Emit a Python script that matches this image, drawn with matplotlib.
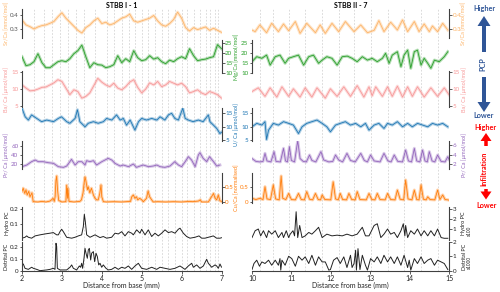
import numpy as np
import matplotlib
matplotlib.use("Agg")
import matplotlib.pyplot as plt
from matplotlib.ticker import FuncFormatter
from matplotlib.patches import FancyArrow

plt.rcParams['font.family'] = ['Lato', 'DejaVu Sans']

# ---------------- data : left panel (STBB I - 1) ----------------
grid_l = np.round(np.arange(2.0, 7.001, 0.1), 2)
sr_l = [0.367,0.33,0.317,0.30,0.315,0.325,0.33,0.342,0.355,0.39,0.42,0.38,0.35,0.32,0.29,0.27,0.31,0.33,0.36,0.38,
        0.34,0.35,0.33,0.34,0.36,0.38,0.39,0.41,0.36,0.35,0.36,0.37,0.38,0.40,0.36,0.33,0.32,0.34,0.37,0.425,
        0.38,0.31,0.285,0.31,0.295,0.305,0.315,0.29,0.305,0.29,0.275]
mg_l = [18,13.5,14,15.5,19.5,15,12.5,12.5,14,15.5,16,15.5,17,19.5,21,23.8,18,12.5,15,14,
        13.8,12.5,13,14,18.5,15,17,15.5,21,17.5,16,16.5,18.5,16.8,17.5,15.5,14.5,16.3,15.5,17,
        18,17,22,18.5,16,16.5,16.8,17.5,18,24,22]
ba_l = [11.2,10.3,9.5,9.6,10.0,10.5,10.6,11.2,11.8,12.7,12.2,10.3,8.4,9.8,9.3,7.4,7.9,8.9,11.0,13.1,
        12.0,11.2,10.7,11.7,10.3,9.8,10.7,12.0,12.7,10.5,8.9,10.0,11.8,11.2,12.2,10.7,11.2,12.2,11.7,11.2,
        11.7,10.7,8.9,9.3,9.8,8.9,8.4,9.3,8.9,8.4,7.4]
u_l_x = [2.0,2.08,2.16,2.24,2.37,2.49,2.62,2.79,2.91,2.99,3.12,3.2,3.33,3.39,3.45,3.58,3.66,3.79,3.91,4.04,
         4.12,4.25,4.37,4.46,4.54,4.62,4.71,4.83,4.92,5.0,5.12,5.25,5.38,5.46,5.58,5.67,5.75,5.83,5.92,6.03,
         6.09,6.17,6.29,6.42,6.54,6.67,6.71,6.8,6.88,6.96,7.0]
u_l = [16.9,13.7,12.5,14.4,13.1,11.9,12.5,11.9,13.1,13.7,11.9,11.3,13.1,16.3,11.9,10.0,11.3,11.9,11.3,11.9,
       13.1,12.5,14.4,12.5,13.1,10.6,12.5,8.8,11.9,13.1,12.5,13.1,12.5,13.7,12.5,14.4,15.0,13.1,12.5,16.9,
       13.1,12.5,11.9,12.5,11.9,14.4,11.9,10.6,9.4,7.5,8.0]
pr_l_x = [2.0,2.12,2.24,2.33,2.41,2.53,2.66,2.79,2.91,3.04,3.12,3.2,3.24,3.33,3.41,3.5,3.58,3.62,3.7,3.79,
          3.87,4.0,4.08,4.16,4.25,4.33,4.46,4.54,4.67,4.79,4.87,4.96,5.04,5.17,5.29,5.38,5.46,5.58,5.71,5.83,
          5.92,6.0,6.09,6.17,6.25,6.34,6.42,6.46,6.54,6.63,6.7,6.8,6.88,6.96]
pr_l = [14.2,17.8,25.1,28.7,25.1,25.1,22.9,21.5,14.2,12.7,15.6,25.1,30.2,17.8,25.1,25.1,17.8,27.3,25.1,27.3,
        17.8,25.1,28.7,32.4,28.7,21.5,15.6,17.8,14.2,20.0,12.7,15.6,17.8,14.2,15.6,17.8,14.2,12.7,15.6,25.1,
        17.8,14.2,25.1,36.0,28.7,14.2,39.7,44.8,32.4,25.1,36.0,25.1,15.6,17.8]
cu_l_x = [2.0,2.03,2.07,2.1,2.13,2.17,2.2,2.25,2.28,2.4,2.5,2.6,2.7,2.74,2.78,2.81,2.83,2.85,2.87,2.89,
          2.92,3.0,3.1,3.11,3.12,3.14,3.15,3.18,3.3,3.45,3.49,3.53,3.56,3.58,3.6,3.64,3.66,3.7,3.74,3.79,
          3.83,3.87,3.91,3.95,3.98,4.0,4.04,4.12,4.3,4.5,4.72,4.75,4.79,4.83,4.87,4.9,4.95,5.0,5.04,5.12,
          5.16,5.2,5.25,5.29,5.4,5.6,5.8,6.0,6.2,6.27,6.42,6.47,6.5,6.67,6.75,6.8,6.84,6.88,6.92,6.96,7.0]
cu_l = [0.35,0.45,0.28,0.40,0.23,0.35,0.17,0.30,0.01,0.0,0.02,0.0,0.03,0.07,0.12,0.02,0.17,0.70,0.85,0.40,
        0.05,0.0,0.01,0.28,0.55,0.12,0.45,0.02,0.0,0.02,0.07,0.30,0.65,0.82,0.70,0.40,0.50,0.30,0.45,0.23,
        0.12,0.07,0.07,0.28,0.56,0.17,0.01,0.0,0.01,0.0,0.02,0.17,0.23,0.12,0.17,0.07,0.12,0.07,0.01,0.12,
        0.36,0.17,0.07,0.0,0.01,0.0,0.01,0.0,0.02,0.01,0.03,0.07,0.0,0.0,0.17,0.28,0.12,0.07,0.23,0.04,0.02]
hy_l_x = [2.0,2.075,2.117,2.159,2.242,2.326,2.451,2.576,2.702,2.785,2.869,2.911,2.952,2.994,3.036,3.119,3.245,
          3.328,3.412,3.495,3.537,3.562,3.587,3.621,3.704,3.83,3.955,4.038,4.122,4.247,4.331,4.414,4.498,4.581,
          4.665,4.749,4.79,4.874,4.957,4.999,5.083,5.166,5.25,5.333,5.417,5.5,5.584,5.667,5.751,5.835,5.918,
          5.96,6.043,6.127,6.211,6.336,6.436,6.503,6.586,6.67,6.795,6.878,6.962,7.0]
hy_l = [0.007,0.013,0.022,0.013,0.007,0.022,0.029,0.035,0.04,0.044,0.029,0.029,0.05,0.066,0.05,0.013,0.007,
        0.013,0.022,0.029,0.084,0.165,0.116,0.029,0.013,0.029,0.011,0.018,0.007,0.013,0.04,0.035,0.05,0.022,
        0.05,0.04,0.029,0.062,0.04,0.066,0.029,0.062,0.018,0.04,0.022,0.04,0.062,0.044,0.05,0.04,0.066,
        0.073,0.04,0.018,0.007,0.013,0.022,0.007,0.007,0.013,0.022,0.007,0.007,0.01]
de_l_x = [2.0,2.033,2.075,2.159,2.242,2.284,2.368,2.451,2.618,2.702,2.785,2.827,2.852,2.869,2.886,2.952,3.119,
          3.203,3.245,3.287,3.37,3.437,3.47,3.495,3.52,3.554,3.579,3.604,3.637,3.662,3.688,3.721,3.746,3.788,
          3.821,3.855,3.888,3.922,3.955,3.997,4.038,4.105,4.164,4.247,4.331,4.414,4.498,4.581,4.665,4.749,
          4.832,4.916,4.999,5.124,5.25,5.375,5.459,5.584,5.709,5.835,5.96,6.085,6.169,6.253,6.294,6.378,
          6.461,6.545,6.628,6.67,6.754,6.837,6.879,6.92,6.962,7.0]
de_l = [0.049,0.057,0.02,0.011,0.029,0.02,0.011,0.0,0.006,0.011,0.02,0.011,0.234,0.206,0.02,0.006,0.006,
        0.029,0.049,0.02,0.006,0.04,0.029,0.063,0.02,0.106,0.191,0.149,0.106,0.177,0.191,0.091,0.149,0.163,
        0.077,0.149,0.12,0.049,0.063,0.029,0.049,0.02,0.006,0.011,0.029,0.011,0.029,0.02,0.04,0.011,
        0.04,0.063,0.02,0.011,0.029,0.011,0.029,0.02,0.011,0.02,0.04,0.011,0.04,0.063,0.029,0.049,
        0.02,0.04,0.097,0.063,0.029,0.049,0.04,0.02,0.057,0.03]
layers_l = [2.3,2.55,2.75,2.95,3.15,3.35,3.55,3.83,4.12,4.3,4.5,4.67,4.83,5.0,5.16,5.33,5.5,5.67,5.83,
            6.0,6.13,6.3,6.46,6.6,6.72,6.83,6.92]

# ---------------- data : right panel (STBB II - 7) ----------------
sr_r_x = [10.0,10.08,10.2,10.37,10.5,10.67,10.8,10.93,11.1,11.22,11.39,11.61,11.73,11.86,12.03,12.2,12.37,
          12.59,12.76,12.93,13.1,13.22,13.35,13.52,13.69,13.82,13.95,14.12,14.24,14.37,14.5,14.58,14.71,14.84,14.97]
sr_r = [0.292,0.28,0.33,0.272,0.342,0.28,0.337,0.287,0.355,0.267,0.342,0.272,0.33,0.267,0.342,0.28,0.355,
        0.28,0.33,0.272,0.29,0.362,0.28,0.35,0.292,0.367,0.28,0.355,0.28,0.337,0.28,0.322,0.28,0.342,0.292]
mg_r_x = [10.0,10.12,10.25,10.37,10.46,10.59,10.71,10.84,10.93,11.05,11.18,11.31,11.44,11.56,11.69,11.78,
          11.9,12.03,12.16,12.29,12.42,12.54,12.67,12.8,12.93,13.05,13.18,13.31,13.39,13.48,13.56,13.69,
          13.78,13.86,13.95,14.03,14.12,14.2,14.29,14.37,14.46,14.54,14.63,14.75,14.88,14.97]
mg_r = [15.5,18,17.2,18.8,13.8,18,18.8,14.7,17.2,18,18.8,13.8,18,18.8,14.7,16.3,
        18,17.2,13.8,18,18.3,17.2,15.5,18,16.3,17.2,15.5,17.2,19.7,14.7,18.8,20.5,
        13,18.8,21.3,12.2,20.5,21.3,13.8,17.2,14.7,12.2,16.3,15.5,18,20.5]
ba_r_x = [10.0,10.16,10.33,10.46,10.63,10.76,10.93,11.05,11.22,11.35,11.52,11.65,11.86,11.99,12.16,12.33,
          12.5,12.67,12.84,12.97,13.05,13.14,13.31,13.44,13.56,13.69,13.82,13.95,14.07,14.2,14.37,14.54,
          14.71,14.88,15.0]
ba_r = [9.3,10.37,7.9,10.37,7.7,10.66,7.9,10.09,7.7,10.37,7.7,10.37,7.4,10.09,7.9,10.66,
        7.9,11.0,7.7,10.66,8.09,10.66,7.9,10.66,7.9,10.85,7.7,10.66,7.9,10.66,7.7,10.37,
        7.9,10.37,8.4]
u_r_x = [10.0,10.12,10.25,10.33,10.37,10.42,10.54,10.67,10.8,10.93,11.05,11.18,11.27,11.39,11.52,11.65,
         11.78,11.9,11.99,12.12,12.24,12.37,12.5,12.63,12.76,12.88,12.97,13.1,13.22,13.35,13.44,13.56,
         13.69,13.82,13.95,14.07,14.2,14.33,14.46,14.58,14.71,14.84,14.97]
u_r = [10.0,11.27,10.64,11.9,5.3,8.76,11.27,10.64,11.9,11.27,10.64,7.5,10.0,11.27,11.9,12.5,
       11.27,10.0,8.14,10.64,11.27,11.9,10.64,11.27,10.0,11.27,8.76,10.64,11.27,9.4,11.27,10.64,
       11.9,10.0,11.27,10.0,11.27,10.64,10.0,11.27,10.64,11.27,10.0]
pr_r_x = [10.0,10.1,10.2,10.28,10.33,10.38,10.48,10.56,10.61,10.72,10.8,10.85,10.9,10.95,11.0,11.08,11.16,
          11.22,11.3,11.38,11.46,11.52,11.62,11.75,11.82,11.95,12.05,12.12,12.2,12.3,12.41,12.5,12.62,12.76,
          12.85,12.93,13.01,13.1,13.25,13.35,13.45,13.53,13.61,13.7,13.82,13.9,13.97,14.05,14.12,14.18,14.26,
          14.33,14.39,14.45,14.5,14.57,14.64,14.71,14.8,14.9,14.97,15.0]
pr_r = [3.2,2.6,2.5,2.6,4.27,2.7,2.5,4.62,2.6,2.5,5.31,2.7,2.5,5.65,2.8,2.5,6.9,
        3.2,2.6,2.5,3.93,2.8,2.5,4.62,2.9,2.5,2.6,3.93,2.9,2.5,4.27,2.8,2.5,4.27,
        2.8,2.5,3.93,2.7,2.5,4.27,2.7,2.5,3.93,2.6,2.5,4.96,2.7,2.5,5.31,2.7,2.5,
        4.96,2.7,2.5,4.62,2.7,2.5,3.93,2.6,2.5,3.58,3.0]
cu_r_x = [10.0,10.1,10.2,10.28,10.33,10.38,10.47,10.54,10.6,10.69,10.74,10.78,10.86,10.93,11.0,11.1,11.18,
          11.25,11.33,11.39,11.46,11.54,11.61,11.68,11.74,11.78,11.85,12.0,12.06,12.12,12.19,12.24,12.3,12.4,
          12.46,12.53,12.62,12.67,12.74,12.9,12.97,13.04,13.12,13.18,13.25,13.38,13.44,13.52,13.63,13.69,
          13.76,13.85,13.9,13.96,14.06,14.12,14.18,14.24,14.29,14.35,14.42,14.46,14.52,14.64,14.71,14.77,
          14.84,14.9,14.97,15.0]
cu_r = [0.12,0.08,0.12,0.08,0.5,0.1,0.08,0.56,0.1,0.07,0.85,0.12,0.08,0.28,0.08,0.07,0.28,
        0.08,0.07,0.34,0.09,0.07,0.28,0.08,0.07,0.23,0.08,0.07,0.66,0.1,0.07,0.28,0.08,0.07,
        0.28,0.08,0.07,0.34,0.08,0.07,0.28,0.08,0.07,0.28,0.08,0.07,0.28,0.08,0.07,0.39,
        0.09,0.07,0.72,0.1,0.07,0.39,0.08,0.07,0.56,0.09,0.07,0.17,0.08,0.07,0.39,0.08,
        0.23,0.08,0.07,0.06]
hy_r_x = [10.0,10.08,10.16,10.22,10.29,10.37,10.42,10.5,10.59,10.67,10.76,10.8,10.87,10.93,10.97,11.04,
          11.08,11.12,11.16,11.21,11.27,11.35,11.44,11.52,11.61,11.69,11.78,11.9,12.03,12.16,12.29,12.41,
          12.54,12.67,12.8,12.88,12.97,13.1,13.18,13.27,13.35,13.44,13.52,13.61,13.69,13.78,13.84,13.88,
          13.9,13.95,14.03,14.12,14.2,14.29,14.37,14.46,14.54,14.63,14.71,14.8,14.88,14.97]
hy_r = [0.17,0.85,1.02,0.34,0.85,0.17,0.85,0.51,0.85,0.17,0.68,0.17,0.85,0.17,0.51,0.85,
        0.34,2.73,0.17,1.37,0.17,0.34,0.68,0.51,0.85,1.19,0.17,0.51,0.34,0.41,0.34,0.51,
        0.34,0.51,1.19,0.34,0.34,1.37,1.54,0.17,0.51,1.02,0.51,0.68,0.17,0.85,1.54,0.34,
        1.37,0.17,0.85,0.51,1.02,0.34,0.85,0.34,0.85,0.34,1.02,0.17,0.1,0.1]
de_r_x = [10.0,10.05,10.12,10.19,10.25,10.33,10.42,10.5,10.59,10.67,10.71,10.73,10.76,10.84,10.93,11.01,
          11.1,11.18,11.27,11.35,11.44,11.52,11.61,11.69,11.78,11.86,11.95,11.99,12.07,12.16,12.24,12.33,
          12.41,12.5,12.54,12.59,12.63,12.65,12.69,12.74,12.8,12.88,12.93,13.01,13.1,13.18,13.27,13.35,
          13.44,13.52,13.61,13.69,13.78,13.86,13.95,13.99,14.03,14.12,14.2,14.29,14.37,14.46,14.54,14.63,
          14.71,14.8,14.88,14.97]
de_r = [0.09,0.51,0.74,0.32,0.62,0.51,0.74,0.39,0.74,0.39,0.85,0.05,0.74,0.39,1.01,0.85,
        0.32,1.01,0.74,0.97,0.51,1.08,0.39,0.97,0.62,0.62,0.05,0.09,0.74,0.92,0.51,0.97,
        0.23,1.08,0.23,0.51,1.43,0.05,1.54,0.09,1.08,0.39,0.05,0.85,0.62,0.97,0.51,1.08,
        0.62,0.97,0.51,0.97,0.39,1.08,0.23,0.74,0.05,0.85,0.51,0.97,0.51,0.74,0.85,0.39,
        0.74,0.62,0.51,0.09]
layers_r = [10.2,10.54,10.93,11.35,11.78,12.2,12.59,13.01,13.44,13.86,14.29,14.71]

# ---------------- styling ----------------
W, H = 500, 292
fig = plt.figure(figsize=(W/100, H/100), dpi=100)

C_SR = '#fdb56a'
C_MG = '#2ca02c'
C_BA = '#f79a9a'
C_U = '#1f77b4'
C_PR = '#9467bd'
C_CU = '#ff7f0e'
C_K = '#222222'
SPINE = '#404040'
fmt = FuncFormatter(lambda v, p: f'{v:g}')


def add_ax(px0, px1, top, bot):
    return fig.add_axes([px0 / W, 1 - bot / H, (px1 - px0) / W, (bot - top) / H])


def style(ax, side, xlim, ylim, ticks, tickcolor, label=None, lcolor=None, lx=None):
    ax.set_facecolor('none')
    for s in ax.spines.values():
        s.set_visible(False)
    ax.spines[side].set_visible(True)
    ax.spines[side].set_color(SPINE)
    ax.spines[side].set_linewidth(0.8)
    ax.set_xlim(*xlim)
    ax.set_xticks([])
    ax.set_ylim(*ylim)
    ax.set_yticks(ticks)
    ax.yaxis.set_major_formatter(fmt)
    ax.yaxis.set_ticks_position(side)
    ax.yaxis.set_label_position(side)
    ax.tick_params(axis='y', direction='out', length=1.8, width=0.6, pad=0.8,
                   labelsize=4.5, colors=SPINE, labelcolor=tickcolor)
    if label:
        ax.set_ylabel(label, color=lcolor, fontsize=4.0, labelpad=0)
        ax.yaxis.set_label_coords(lx, 0.5)


def trace(ax, x, y, color, band=True):
    if band:
        ax.plot(x, y, color=color, lw=2.2, alpha=0.35, solid_joinstyle='round')
        ax.plot(x, y, color=color, lw=0.6)
    else:
        ax.plot(x, y, color=color, lw=0.7)


panels = [
    dict(px=(22, 221.5), xlim=(2, 7), title='STBB I - 1', layers=layers_l, xt=[2, 3, 4, 5, 6, 7]),
    dict(px=(252, 449), xlim=(10, 15), title='STBB II - 7', layers=layers_r, xt=[10, 11, 12, 13, 14, 15]),
]

# rows: (top, bottom) in px
rows = {
    'sr': (9, 38), 'mg': (40, 73), 'ba': (71.5, 106.7), 'u': (107.7, 140.5),
    'pr': (140.7, 169), 'cu': (173, 203), 'hy': (207, 240), 'de': (242, 271),
}

for pi, P in enumerate(panels):
    x0, x1 = P['px']
    wpx = x1 - x0
    # background layer boundaries
    bg = add_ax(x0, x1, 8, 271)
    bg.set_xlim(*P['xlim'])
    bg.set_ylim(0, 1)
    bg.axis('off')
    bg.vlines(P['layers'], 0, 1, colors='#d4d4d4', linestyles=(0, (2, 2)), lw=0.6)

    lx_left = (9.5 - x0) / wpx
    lx_right_l = (233.6 - x0) / wpx
    lx_right_r = (461.5 - x0) / wpx

    if pi == 0:
        A = add_ax(x0, x1, *rows['sr']); trace(A, grid_l, sr_l, C_SR)
        style(A, 'left', P['xlim'], (0.233, 0.448), [0.3, 0.4], '#555555', 'Sr/Ca [mmol/mol]', C_SR, lx_left)
        A.set_title(P['title'], fontsize=5, fontweight='bold', pad=1)
        A = add_ax(x0, x1, *rows['mg']); trace(A, grid_l, mg_l, C_MG)
        style(A, 'right', P['xlim'], (9.85, 26.35), [10, 15, 20, 25], C_MG, 'Mg/Ca [mmol/mol]', C_MG, lx_right_l)
        A = add_ax(x0, x1, *rows['ba']); trace(A, grid_l, ba_l, C_BA)
        style(A, 'left', P['xlim'], (4.94, 15.06), [5, 10, 15], C_BA, 'Ba/ Ca [µmol/mol]', C_BA, lx_left)
        A = add_ax(x0, x1, *rows['u']); trace(A, u_l_x, u_l, C_U)
        style(A, 'right', P['xlim'], (4.93, 17.07), [5, 10, 15], C_U, 'U/ Ca [µmol/mol]', C_U, lx_right_l)
        A = add_ax(x0, x1, *rows['pr']); trace(A, pr_l_x, pr_l, C_PR)
        style(A, 'left', P['xlim'], (9.1, 70.9), [20, 40, 60], C_PR, 'Pr/ Ca [µmol/mol]', C_PR, lx_left)
        A = add_ax(x0, x1, *rows['cu']); trace(A, cu_l_x, cu_l, C_CU)
        style(A, 'right', P['xlim'], (-0.033, 0.948), [0, 0.5], C_CU, 'Cu/Ca [normalised]', C_CU, lx_right_l)
        A = add_ax(x0, x1, *rows['hy']); trace(A, hy_l_x, hy_l, C_K, band=False)
        style(A, 'left', P['xlim'], (-0.005, 0.213), [0.1, 0.2], C_K, 'Hydro PC', C_K, lx_left)
        A = add_ax(x0, x1, *rows['de']); trace(A, de_l_x, de_l, C_K, band=False)
        style(A, 'left', P['xlim'], (-0.003, 0.245), [0, 0.1, 0.2], C_K, 'Detrital PC', C_K, lx_left)
    else:
        A = add_ax(x0, x1, *rows['sr']); trace(A, sr_r_x, sr_r, C_SR)
        style(A, 'right', P['xlim'], (0.233, 0.448), [0.3, 0.4], C_SR, 'Sr/Ca [mmol/mol]', C_SR, lx_right_r)
        A.set_title(P['title'], fontsize=5, fontweight='bold', pad=1)
        A = add_ax(x0, x1, *rows['mg']); trace(A, mg_r_x, mg_r, C_MG)
        style(A, 'left', P['xlim'], (9.85, 26.35), [10, 15, 20, 25], C_MG)
        A = add_ax(x0, x1, *rows['ba']); trace(A, ba_r_x, ba_r, C_BA)
        style(A, 'right', P['xlim'], (4.94, 15.06), [5, 10, 15], C_BA, 'Ba/ Ca [µmol/mol]', C_BA, lx_right_r)
        A = add_ax(x0, x1, *rows['u']); trace(A, u_r_x, u_r, C_U)
        style(A, 'left', P['xlim'], (4.93, 17.07), [5, 10, 15], C_U)
        A = add_ax(x0, x1, *rows['pr']); trace(A, pr_r_x, pr_r, C_PR)
        style(A, 'right', P['xlim'], (1.03, 6.89), [2, 4, 6], C_PR, 'Pr/ Ca [µmol/mol]', C_PR, lx_right_r)
        A = add_ax(x0, x1, *rows['cu']); trace(A, cu_r_x, cu_r, C_CU)
        style(A, 'left', P['xlim'], (-0.033, 0.948), [0, 0.5], C_CU)
        A = add_ax(x0, x1, *rows['hy']); trace(A, hy_r_x, hy_r, C_K, band=False)
        style(A, 'right', P['xlim'], (-0.07, 3.2), [1, 2, 3], C_K, 'Hydro PC', C_K, lx_right_r)
        A = add_ax(x0, x1, *rows['de']); trace(A, de_r_x, de_r, C_K, band=False)
        style(A, 'right', P['xlim'], (-0.01, 2.0), [0, 1, 2], C_K, 'Detrital PC', C_K, lx_right_r)
    # bottom x axis on the last row
    A.spines['bottom'].set_visible(True)
    A.spines['bottom'].set_color(SPINE)
    A.spines['bottom'].set_linewidth(0.8)
    A.set_xticks(P['xt'])
    A.set_xticklabels([str(v) for v in P['xt']])
    A.tick_params(axis='x', direction='out', length=2, width=0.6, pad=1, labelsize=5,
                  colors=SPINE, labelcolor=C_K)
    A.set_xlabel('Distance from base (mm)', fontsize=5, labelpad=0, color=C_K)

# ---------------- annotation overlay (pixel coordinates) ----------------
ov = fig.add_axes([0, 0, 1, 1])
ov.set_xlim(0, W)
ov.set_ylim(H, 0)
ov.axis('off')
BLUE = '#2f5597'
RED = '#ff0000'
ov.text(484, 8, 'Higher', color=BLUE, fontsize=5.2, fontweight='bold', ha='center', va='center')
ov.add_patch(FancyArrow(484, 52, 0, -36, width=4, head_width=13, head_length=10,
                        length_includes_head=True, color=BLUE, lw=0))
ov.text(483, 64.5, 'PCP', color=BLUE, fontsize=5.2, fontweight='bold', rotation=90, ha='center', va='center')
ov.add_patch(FancyArrow(484, 77, 0, 35, width=4, head_width=13, head_length=10,
                        length_includes_head=True, color=BLUE, lw=0))
ov.text(484, 116, 'Lower', color=BLUE, fontsize=5.2, fontweight='bold', ha='center', va='center')
ov.text(485, 127.5, 'Higher', color=RED, fontsize=5.2, fontweight='bold', ha='center', va='center')
ov.add_patch(FancyArrow(486, 146, 0, -13, width=3.5, head_width=11, head_length=8,
                        length_includes_head=True, color=RED, lw=0))
ov.text(484, 169, 'Infiltration', color=RED, fontsize=5.2, fontweight='bold', rotation=90,
        ha='center', va='center')
ov.add_patch(FancyArrow(486, 189, 0, 10.5, width=3.5, head_width=11, head_length=8,
                        length_includes_head=True, color=RED, lw=0))
ov.text(487, 205, 'Lower', color=RED, fontsize=5.2, fontweight='bold', ha='center', va='center')
ov.text(469, 231, 'x100', color=C_K, fontsize=3.3, rotation=90, ha='center', va='center')
ov.text(469, 262, 'x1000', color=C_K, fontsize=3.3, rotation=90, ha='center', va='center')

fig.savefig('out.png', dpi=100)
